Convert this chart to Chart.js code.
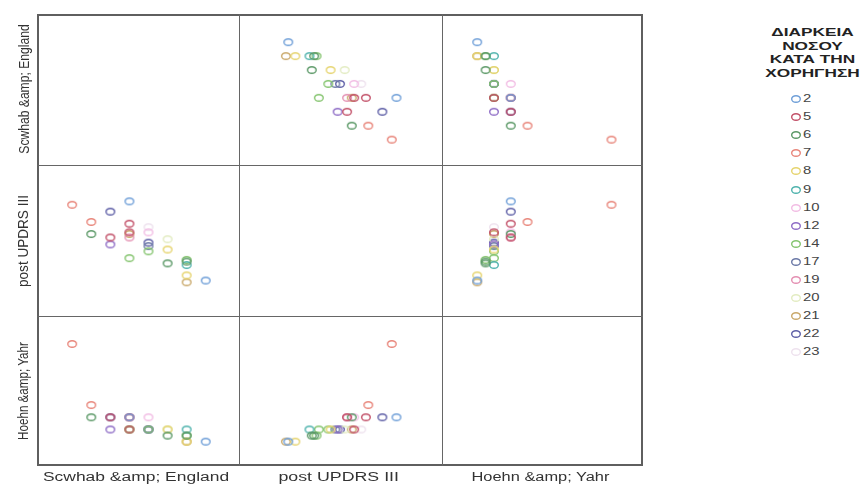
<!DOCTYPE html>
<html>
<head>
<meta charset="utf-8">
<script src="https://cdn.jsdelivr.net/npm/chart.js@4.4.0/dist/chart.umd.min.js"></script>
<style>
  body { margin:0; background:#fff; width:865px; height:486px; overflow:hidden; position:relative;
         font-family:"Liberation Sans", Arial, sans-serif; color:#333; }
  .cell { position:absolute; }
  .frame { position:absolute; left:37px; top:14px; width:606px; height:452px; border:2px solid #5f5f5f; box-sizing:border-box; pointer-events:none; }
  .vline { position:absolute; width:1px; background:#666; }
  .hline { position:absolute; height:1px; background:#666; }
  .lbl { position:absolute; white-space:nowrap; font-size:12px; color:#333; }
  #legend { position:absolute; left:760px; top:0; width:105px; }
  .ttl { position:absolute; left:0; width:105px; text-align:center; font-weight:bold; font-size:11.5px; color:#222; white-space:nowrap; }
  .item { position:absolute; font-size:11px; color:#444; white-space:nowrap; }
</style>
</head>
<body>
<div id="legend"></div>
<script>
// legend categories: disease duration at administration
const categories = ['2','5','6','7','8','9','10','12','14','17','19','20','21','22','23'];
const catColors = ['#6f9fd8','#c25068','#5a9866','#e8857a','#e6d46e','#4fb3ad','#f2bde4','#8e6cc6',
                   '#84c46e','#6a78a6','#e48fb2','#e3ecc2','#c9a86a','#5d5ea6','#eee2ee'];

// one entry per patient
const duration      = ['2','21','8','9','6','14','6','8','20','14','17','22','10','23','14','19','21','5','5','2','12','5','22','6','7','7'];
const schwabEngland = [100,90,90,90,90,90,80,80,80,70,70,70,70,70,60,60,60,60,60,60,50,50,50,40,40,30];
const updrsPost     = [14,13,17,23,25,26,24,32,38,31,34,36,42,45,27,39,41,42,47,60,35,39,54,41,48,58];
const hoehnYahr     = [1,1,1,1.5,1.25,1.25,1.25,1.5,1.5,1.5,1.5,1.5,2,1.5,1.5,2,1.5,1.5,2,2,1.5,2,2,2,2.5,5];

const varNames = ['Scwhab &amp; England', 'post UPDRS III', 'Hoehn &amp; Yahr'];
const varData = [schwabEngland, updrsPost, hoehnYahr];

// axis ranges per variable (horizontal / vertical use)
const xRange = [[14.7,114.3],[-4.4,76.8],[0.13,5.76]];
const yRange = [[16.1,115.9],[-3.1,77.6],[0.25,5.9]];

const colEdges = [37,239,442,643];
const rowEdges = [14,165,316,466];

// stretched circle marker like the reference
function marker(color){
  const c = document.createElement('canvas');
  c.width = 12; c.height = 10;
  const g = c.getContext('2d');
  g.strokeStyle = color; g.lineWidth = 1.4;
  g.beginPath(); g.ellipse(6,5,4.3,3.3,0,0,Math.PI*2); g.stroke();
  return c;
}
const markers = catColors.map(marker);

for (let r = 0; r < 3; r++) {
  for (let c = 0; c < 3; c++) {
    if (r === c) continue;
    const cv = document.createElement('canvas');
    const w = colEdges[c+1]-colEdges[c], h = rowEdges[r+1]-rowEdges[r];
    cv.width = w; cv.height = h;
    cv.className = 'cell';
    cv.style.left = colEdges[c]+'px'; cv.style.top = rowEdges[r]+'px';
    cv.style.width = w+'px'; cv.style.height = h+'px';
    document.body.appendChild(cv);
    const datasets = categories.map((cat, k) => ({
      label: cat,
      data: duration.map((d,i) => d === cat ? {x: varData[c][i], y: varData[r][i]} : null).filter(p => p),
      pointStyle: markers[k],
      pointRadius: 5,
      borderColor: catColors[k],
      backgroundColor: 'transparent'
    }));
    new Chart(cv, {
      type: 'scatter',
      data: { datasets },
      options: {
        responsive: false,
        animation: false,
        clip: false,
        layout: { padding: 0 },
        plugins: { legend: { display: false }, tooltip: { enabled: false } },
        scales: {
          x: { type:'linear', display:false, min:xRange[c][0], max:xRange[c][1] },
          y: { type:'linear', display:false, min:yRange[r][0], max:yRange[r][1] }
        }
      }
    });
  }
}

// frame and panel dividers
const frame = document.createElement('div'); frame.className = 'frame'; document.body.appendChild(frame);
[colEdges[1], colEdges[2]].forEach(x => {
  const d = document.createElement('div'); d.className = 'vline';
  d.style.left = x+'px'; d.style.top = rowEdges[0]+'px'; d.style.height = (rowEdges[3]-rowEdges[0])+'px';
  document.body.appendChild(d);
});
[rowEdges[1], rowEdges[2]].forEach(y => {
  const d = document.createElement('div'); d.className = 'hline';
  d.style.top = y+'px'; d.style.left = colEdges[0]+'px'; d.style.width = (colEdges[3]-colEdges[0])+'px';
  document.body.appendChild(d);
});

// variable labels: bottom and left, stretched/condensed to the reference lengths
function addLabel(text, cx, cy, targetLen, rotated){
  const el = document.createElement('div');
  el.className = 'lbl';
  el.textContent = text;
  if (rotated) el.style.fontSize = '14px';
  document.body.appendChild(el);
  const w = el.offsetWidth, h = el.offsetHeight;
  el.style.left = (cx - w/2)+'px'; el.style.top = (cy - h/2)+'px';
  const s = targetLen / w;
  el.style.transform = rotated ? 'rotate(-90deg) scaleX('+s+')' : 'scaleX('+s+')';
}
const bottomLen = [186,120,138];
const leftLen = [129,92,98];
const leftCenter = [89,241,391];
for (let i = 0; i < 3; i++) {
  addLabel(varNames[i], (colEdges[i]+colEdges[i+1])/2 - 2, 477, bottomLen[i], false);
  addLabel(varNames[i], 23, leftCenter[i], leftLen[i], true);
}

// legend
const legend = document.getElementById('legend');
const titleLines = ['ΔΙΑΡΚΕΙΑ','ΝΟΣΟΥ','ΚΑΤΑ ΤΗΝ','ΧΟΡΗΓΗΣΗ'];
titleLines.forEach((t,i) => {
  const d = document.createElement('div'); d.className = 'ttl'; d.textContent = t;
  d.style.top = (26 + i*13.5)+'px'; d.style.transform = 'scaleX(1.5)';
  legend.appendChild(d);
});
categories.forEach((cat,k) => {
  const y = 99 + k*18.1;
  const m = document.createElement('canvas'); m.width = 12; m.height = 10;
  m.getContext('2d').drawImage(markers[k],0,0);
  m.style.position = 'absolute'; m.style.left = '30px'; m.style.top = (y-5)+'px';
  legend.appendChild(m);
  const d = document.createElement('div'); d.className = 'item'; d.textContent = cat;
  d.style.left = '43px'; d.style.top = (y-7)+'px';
  d.style.transform = 'scaleX(1.35)'; d.style.transformOrigin = 'left center';
  legend.appendChild(d);
});
</script>
</body>
</html>
